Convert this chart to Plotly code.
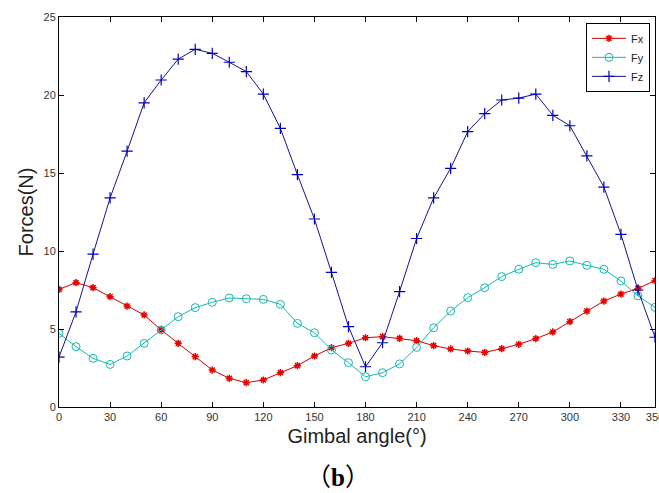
import plotly.graph_objects as go

angles = list(range(0, 360, 10))
fx = [7.54, 7.97, 7.65, 7.07, 6.47, 5.90, 4.94, 4.08, 3.23, 2.37, 1.84, 1.56, 1.73, 2.20, 2.65, 3.27, 3.80, 4.08,
      4.44, 4.51, 4.40, 4.25, 3.93, 3.72, 3.59, 3.50, 3.74, 4.02, 4.38, 4.81, 5.47, 6.15, 6.79, 7.24, 7.60, 8.10]
fy = [4.72, 3.87, 3.12, 2.73, 3.27, 4.08, 4.94, 5.79, 6.37, 6.71, 6.99, 6.94, 6.90, 6.58, 5.36, 4.76, 3.65, 2.84,
      1.94, 2.20, 2.76, 3.82, 5.08, 6.15, 7.01, 7.65, 8.36, 8.83, 9.25, 9.14, 9.36, 9.08, 8.83, 8.08, 7.12, 6.39]
fz = [3.2, 6.1, 9.8, 13.4, 16.4, 19.5, 20.96, 22.3, 22.93, 22.67, 22.1, 21.5, 20.06, 17.86, 14.9, 12.05, 8.63, 5.15,
      2.58, 4.12, 7.4, 10.8, 13.4, 15.3, 17.65, 18.8, 19.68, 19.8, 20.06, 18.7, 18.03, 16.1, 14.1, 11.07, 7.5, 4.47]

x_ticks = [0, 30, 60, 90, 120, 150, 180, 210, 240, 270, 300, 330, 350]
y_ticks = [0, 5, 10, 15, 20, 25]

fig = go.Figure()
fig.add_trace(go.Scatter(x=angles, y=fx, name="Fx", mode="lines+markers",
                         line=dict(color="rgb(210,0,0)", width=1),
                         marker=dict(symbol="asterisk-open", size=6, color="rgb(230,0,0)",
                                     line=dict(color="rgb(230,0,0)", width=1.5))))
fig.add_trace(go.Scatter(x=angles, y=fy, name="Fy", mode="lines+markers",
                         line=dict(color="rgb(20,185,175)", width=1),
                         marker=dict(symbol="circle-open", size=8, color="rgb(20,185,175)",
                                     line=dict(color="rgb(20,185,175)", width=1))))
fig.add_trace(go.Scatter(x=angles, y=fz, name="Fz", mode="lines+markers",
                         line=dict(color="rgb(20,20,140)", width=1),
                         marker=dict(symbol="cross-thin-open", size=8, color="rgb(0,0,190)",
                                     line=dict(color="rgb(0,0,190)", width=1.2))))

tickfont = dict(family="Liberation Sans Narrow, Arial Narrow, Liberation Sans, Arial", size=11, color="#333")
fig.update_xaxes(range=[0, 350], tickvals=x_ticks, ticks="inside", ticklen=5, tickcolor="black",
                 showline=True, linecolor="black", linewidth=1, mirror="ticks", showgrid=False,
                 zeroline=False, tickfont=tickfont, ticklabeloverflow="allow", automargin=False,
                 title=dict(text="Gimbal angle(°)", font=dict(family="Liberation Sans, Arial", size=20, color="#222"),
                            standoff=6))
fig.update_yaxes(range=[0, 25], tickvals=y_ticks, ticks="inside", ticklen=5, tickcolor="black",
                 showline=True, linecolor="black", linewidth=1, mirror="ticks", showgrid=False,
                 zeroline=False, tickfont=tickfont, automargin=False,
                 title=dict(text="Forces(N)", font=dict(family="Liberation Sans, Arial", size=20, color="#222"),
                            standoff=4))

fig.add_annotation(
    text="（<span style=\"font-family:'Liberation Serif'\"><b>b</b></span>）",
    x=0.468, y=-0.175, xref="paper", yref="paper",
    xanchor="center", yanchor="middle", showarrow=False,
    font=dict(family="Noto Sans CJK SC", size=25, color="black"))

fig.update_layout(width=659, height=493, margin=dict(l=59, r=4, t=17, b=86, autoexpand=False),
                  paper_bgcolor="white", plot_bgcolor="white",
                  legend=dict(x=0.9916, y=0.985, xanchor="right", yanchor="top",
                              bordercolor="black", borderwidth=1, bgcolor="white",
                              font=dict(family="Liberation Sans, Arial", size=11, color="#222"),
                              tracegroupgap=0, itemwidth=34))
fig.write_html("out.html")
